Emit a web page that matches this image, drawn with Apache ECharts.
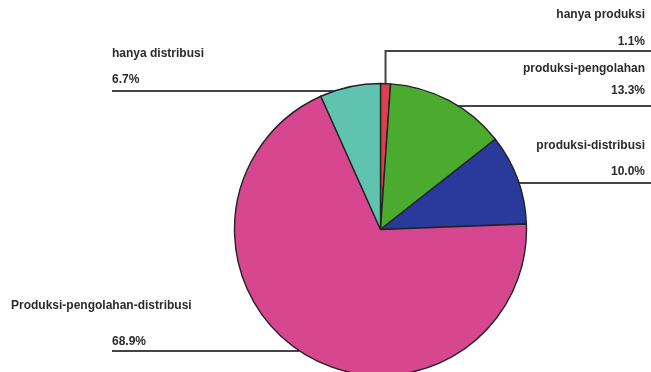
<!DOCTYPE html>
<html><head><meta charset="utf-8">
<script src="https://cdn.jsdelivr.net/npm/echarts@6/dist/echarts.min.js"></script>
<style>html,body{margin:0;padding:0;background:#fff}#c{width:651px;height:372px}</style>
</head><body><div id="c"></div>
<script>
// ---- data ----
const categories = ['hanya produksi', 'produksi-pengolahan', 'produksi-distribusi', 'Produksi-pengolahan-distribusi', 'hanya distribusi'];
const shares = [1.1, 13.3, 10.0, 68.9, 6.7];

// ---- styles ----
const sliceColors = ['#d9414f', '#4aab2e', '#2a3a9c', '#d6478f', '#5fc3b0'];

// ---- label layout (px) ----
const labelLayouts = [
  { x: 645, align: 'right', nameY: 15,  pctY: 42,  lineY: 51,  lineEnd: 651, indent: 0, vertical: true },
  { x: 645, align: 'right', nameY: 69,  pctY: 91,  lineY: 106, lineEnd: 651, indent: 0 },
  { x: 645, align: 'right', nameY: 146, pctY: 172, lineY: 183, lineEnd: 651, indent: 0 },
  { x: 11,  align: 'left',  nameY: 306, pctY: 342, lineY: 351, lineEnd: 112, indent: 101 },
  { x: 112, align: 'left',  nameY: 54,  pctY: 80,  lineY: 91,  lineEnd: 112, indent: 0 }
];
const CX = 380.5, CY = 229.5, R = 146;
const FONT = { fontFamily: '"Liberation Sans", Arial, sans-serif', fontSize: 12, fontWeight: 'bold', color: '#2b2b2b' };

const chart = echarts.init(document.getElementById('c'), null, { renderer: 'canvas' });

const data = categories.map((name, i) => {
  const L = labelLayouts[i];
  const gap = L.pctY - L.nameY;
  return {
    name, value: shares[i],
    itemStyle: { color: sliceColors[i] },
    label: {
      rich: {
        n: Object.assign({ lineHeight: gap }, FONT),
        p: Object.assign({ lineHeight: gap, padding: [0, 0, 0, L.indent] }, FONT)
      }
    }
  };
});

chart.setOption({
  backgroundColor: '#ffffff',
  animation: false,
  series: [{
    type: 'pie',
    center: [CX, CY],
    radius: R,
    startAngle: 90,
    clockwise: true,
    avoidLabelOverlap: false,
    itemStyle: { borderColor: '#222', borderWidth: 1.4 },
    label: {
      show: true,
      position: 'outside',
      width: 240,
      overflow: 'none',
      formatter: p => '{n|' + p.name + '}\n{p|' + p.value.toFixed(1) + '%}'
    },
    labelLine: { show: true, length: 10, length2: 10, smooth: false, lineStyle: { color: '#444', width: 2 } },
    labelLayout: function (p) {
      const L = labelLayouts[p.dataIndex];
      const y = (L.nameY + L.pctY) / 2;
      const dy = L.lineY - CY;
      const dx = Math.sqrt(Math.max(0, R * R - dy * dy));
      let pts;
      if (L.vertical) {
        const p0 = (p.labelLinePoints && p.labelLinePoints[0]) || [CX, CY - R];
        pts = [[p0[0], p0[1]], [p0[0], L.lineY], [L.lineEnd, L.lineY]];
      } else if (L.align === 'right') {
        pts = [[CX + dx, L.lineY], [CX + dx, L.lineY], [L.lineEnd, L.lineY]];
      } else {
        pts = [[CX - dx, L.lineY], [CX - dx, L.lineY], [L.lineEnd, L.lineY]];
      }
      return { x: L.x, y: y, align: L.align, verticalAlign: 'middle', labelLinePoints: pts };
    },
    data: data
  }]
});
</script></body></html>
